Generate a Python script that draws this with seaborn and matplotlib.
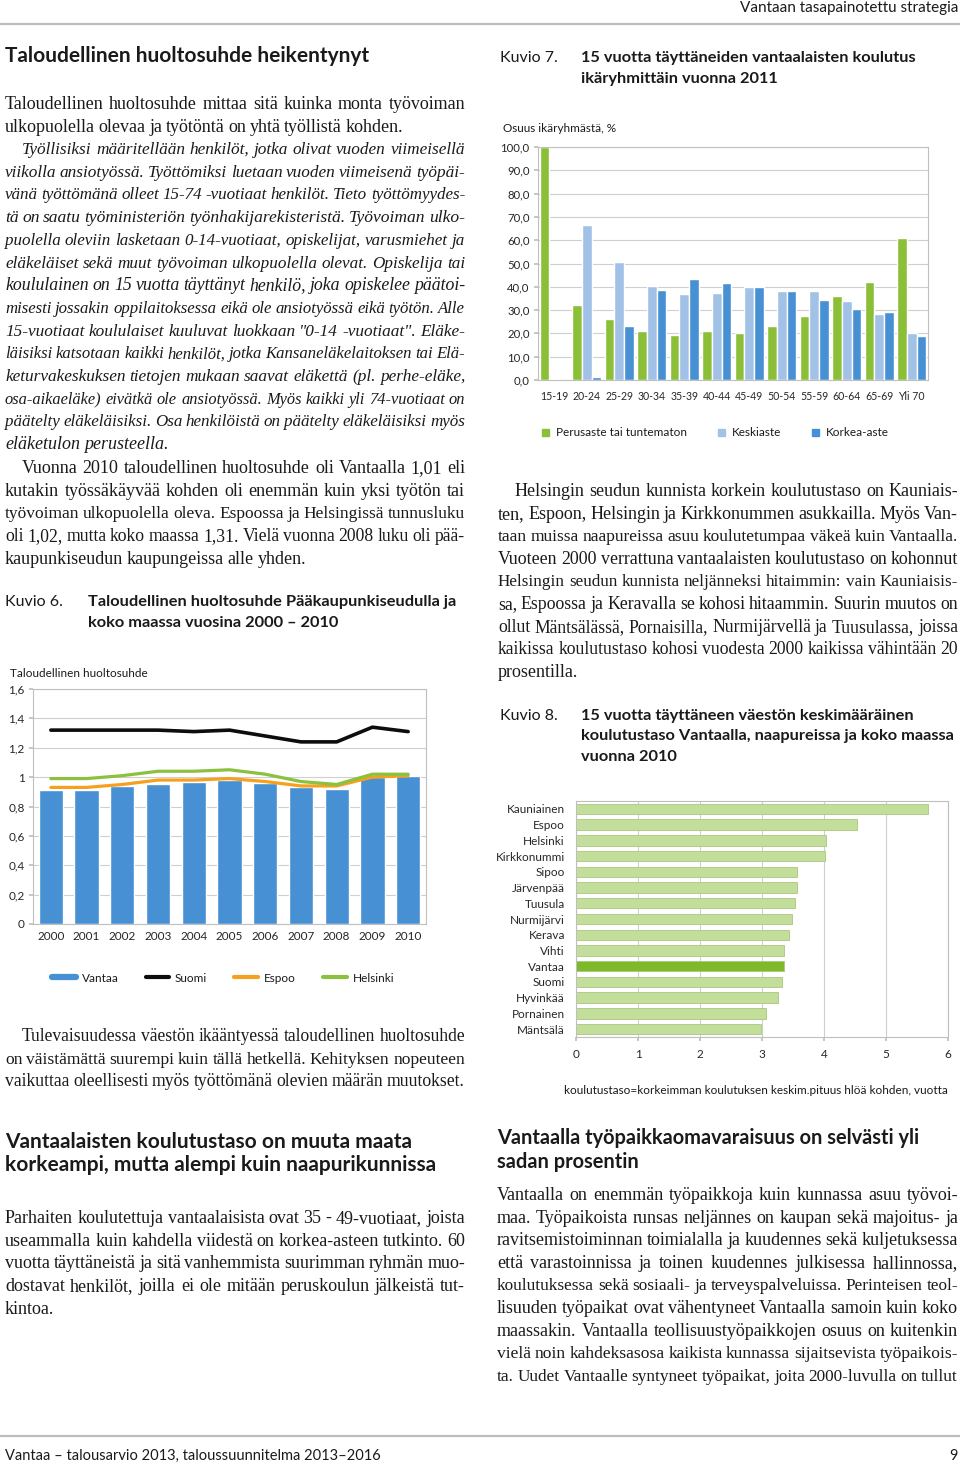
import matplotlib
matplotlib.use('Agg')
import matplotlib.pyplot as plt
import seaborn as sns
import numpy as np
import pandas as pd
from matplotlib.lines import Line2D
from matplotlib.patches import Patch

# Kuvio 6: taloudellinen huoltosuhde 2000-2010
years = ['2000', '2001', '2002', '2003', '2004', '2005', '2006', '2007', '2008', '2009', '2010']
vantaa = [0.91, 0.91, 0.94, 0.95, 0.97, 0.98, 0.96, 0.93, 0.92, 1.00, 1.01]
suomi = [1.32, 1.32, 1.32, 1.32, 1.31, 1.32, 1.28, 1.24, 1.24, 1.34, 1.31]
espoo = [0.93, 0.93, 0.95, 0.98, 0.98, 0.99, 0.97, 0.94, 0.94, 1.00, 1.01]
helsinki = [0.99, 0.99, 1.01, 1.04, 1.04, 1.05, 1.02, 0.97, 0.95, 1.02, 1.02]
k6_ticks = [0, 0.2, 0.4, 0.6, 0.8, 1.0, 1.2, 1.4, 1.6]
k6_ticklabels = ['0', '0,2', '0,4', '0,6', '0,8', '1', '1,2', '1,4', '1,6']

# Kuvio 7: koulutus ikäryhmittäin 2011 (%)
age_groups = ['15-19', '20-24', '25-29', '30-34', '35-39', '40-44', '45-49',
              '50-54', '55-59', '60-64', '65-69', 'Yli 70']
perusaste = [100.0, 32.0, 26.3, 21.0, 19.5, 21.0, 20.0, 23.3, 27.3, 36.0, 42.2, 61.0]
keskiaste = [0.3, 66.5, 50.5, 40.3, 37.0, 37.3, 39.7, 38.3, 38.0, 33.8, 28.3, 20.3]
korkea_aste = [0.0, 1.3, 23.0, 38.5, 43.5, 41.5, 40.0, 38.3, 34.5, 30.3, 29.3, 18.7]
levels = ['Perusaste tai tuntematon', 'Keskiaste', 'Korkea-aste']
k7_ticks = [0, 10, 20, 30, 40, 50, 60, 70, 80, 90, 100]
k7_ticklabels = ['0,0', '10,0', '20,0', '30,0', '40,0', '50,0', '60,0', '70,0', '80,0', '90,0', '100,0']

# Kuvio 8: keskimääräinen koulutustaso 2010 (vuotta)
kunnat = ['Kauniainen', 'Espoo', 'Helsinki', 'Kirkkonummi', 'Sipoo', 'Järvenpää', 'Tuusula',
          'Nurmijärvi', 'Kerava', 'Vihti', 'Vantaa', 'Suomi', 'Hyvinkää', 'Pornainen', 'Mäntsälä']
koulutustaso = [5.68, 4.53, 4.04, 4.01, 3.57, 3.56, 3.54, 3.48, 3.43, 3.36, 3.36, 3.32, 3.25, 3.06, 2.99]

# page text
para1 = ['Taloudellinen huoltosuhde mittaa sitä kuinka monta työvoiman',
         'ulkopuolella olevaa ja työtöntä on yhtä työllistä kohden.']
para2 = ['Työllisiksi määritellään henkilöt, jotka olivat vuoden viimeisellä',
         'viikolla ansiotyössä. Työttömiksi luetaan vuoden viimeisenä työpäi-',
         'vänä työttömänä olleet 15-74 -vuotiaat henkilöt. Tieto työttömyydes-',
         'tä on saatu työministeriön työnhakijarekisteristä. Työvoiman ulko-',
         'puolella oleviin lasketaan 0-14-vuotiaat, opiskelijat, varusmiehet ja',
         'eläkeläiset sekä muut työvoiman ulkopuolella olevat. Opiskelija tai',
         'koululainen on 15 vuotta täyttänyt henkilö, joka opiskelee päätoi-',
         'misesti jossakin oppilaitoksessa eikä ole ansiotyössä eikä työtön. Alle',
         '15-vuotiaat koululaiset kuuluvat luokkaan "0-14 -vuotiaat". Eläke-',
         'läisiksi katsotaan kaikki henkilöt, jotka Kansaneläkelaitoksen tai Elä-',
         'keturvakeskuksen tietojen mukaan saavat eläkettä (pl. perhe-eläke,',
         'osa-aikaeläke) eivätkä ole ansiotyössä. Myös kaikki yli 74-vuotiaat on',
         'päätelty eläkeläisiksi. Osa henkilöistä on päätelty eläkeläisiksi myös',
         'eläketulon perusteella.']
para3 = ['Vuonna 2010 taloudellinen huoltosuhde oli Vantaalla 1,01 eli',
         'kutakin työssäkäyvää kohden oli enemmän kuin yksi työtön tai',
         'työvoiman ulkopuolella oleva. Espoossa ja Helsingissä tunnusluku',
         'oli 1,02, mutta koko maassa 1,31. Vielä vuonna 2008 luku oli pää-',
         'kaupunkiseudun kaupungeissa alle yhden.']
para4 = ['Tulevaisuudessa väestön ikääntyessä taloudellinen huoltosuhde',
         'on väistämättä suurempi kuin tällä hetkellä. Kehityksen nopeuteen',
         'vaikuttaa oleellisesti myös työttömänä olevien määrän muutokset.']
para5 = ['Helsingin seudun kunnista korkein koulutustaso on Kauniais-',
         'ten, Espoon, Helsingin ja Kirkkonummen asukkailla. Myös Van-',
         'taan muissa naapureissa asuu koulutetumpaa väkeä kuin Vantaalla.',
         'Vuoteen 2000 verrattuna vantaalaisten koulutustaso on kohonnut',
         'Helsingin seudun kunnista neljänneksi hitaimmin: vain Kauniaisis-',
         'sa, Espoossa ja Keravalla se kohosi hitaammin. Suurin muutos on',
         'ollut Mäntsälässä, Pornaisilla, Nurmijärvellä ja Tuusulassa, joissa',
         'kaikissa koulutustaso kohosi vuodesta 2000 kaikissa vähintään 20',
         'prosentilla.']
para6 = ['Parhaiten koulutettuja vantaalaisista ovat 35 - 49-vuotiaat, joista',
         'useammalla kuin kahdella viidestä on korkea-asteen tutkinto. 60',
         'vuotta täyttäneistä ja sitä vanhemmista suurimman ryhmän muo-',
         'dostavat henkilöt, joilla ei ole mitään peruskoulun jälkeistä tut-',
         'kintoa.']
para7 = ['Vantaalla on enemmän työpaikkoja kuin kunnassa asuu työvoi-',
         'maa. Työpaikoista runsas neljännes on kaupan sekä majoitus- ja',
         'ravitsemistoiminnan toimialalla ja kuudennes sekä kuljetuksessa',
         'että varastoinnissa ja toinen kuudennes julkisessa hallinnossa,',
         'koulutuksessa sekä sosiaali- ja terveyspalveluissa. Perinteisen teol-',
         'lisuuden työpaikat ovat vähentyneet Vantaalla samoin kuin koko',
         'maassakin. Vantaalla teollisuustyöpaikkojen osuus on kuitenkin',
         'vielä noin kahdeksasosa kaikista kunnassa sijaitsevista työpaikois-',
         'ta. Uudet Vantaalle syntyneet työpaikat, joita 2000-luvulla on tullut']

W, H = 960, 1465
SANS = ['Lato', 'DejaVu Sans']
SERIF = ['Liberation Serif', 'DejaVu Serif']
INK = '#1a1a1a'
GRID = '#cfcfcf'
BODY = 13

sns.set_theme(style='white')
plt.rcParams['font.family'] = SANS
plt.rcParams['text.color'] = INK

fig = plt.figure(figsize=(W / 100, H / 100), dpi=100)
renderer = fig.canvas.get_renderer()


def fx(px):
    return px / W


def fy(py):
    return 1 - py / H


def axes_px(left, top, right, bottom):
    return fig.add_axes([fx(left), fy(bottom), (right - left) / W, (bottom - top) / H])


def put(x, y, s, **kw):
    kw.setdefault('family', SANS)
    kw.setdefault('va', 'center')
    return fig.text(fx(x), fy(y), s, **kw)


def line(x0, x1, y, s, justify=True, size=BODY, style='normal'):
    # place word by word so the line fills the column like in the print
    words = s.split(' ')
    while True:
        arts = [fig.text(0, 0, w, fontsize=size, fontstyle=style, family=SERIF,
                         va='baseline', color=INK) for w in words]
        widths = [a.get_window_extent(renderer).width for a in arts]
        space = size * 1.39 * 0.2
        natural = sum(widths) + space * (len(words) - 1)
        if natural <= x1 - x0 or size < 8:
            break
        for a in arts:
            a.remove()
        size = size * (x1 - x0) / natural * 0.995
    gap = space
    if justify and len(words) > 1:
        gap = (x1 - x0 - sum(widths)) / (len(words) - 1)
    x = x0
    for a, w in zip(arts, widths):
        a.set_position((fx(x), fy(y + 5)))
        x += w + gap


def paragraph(x0, x1, y0, lines, step=22.7, indent=17, style='normal', last_full=False):
    for i, s in enumerate(lines):
        start = x0 + (indent if i == 0 else 0)
        last = i == len(lines) - 1
        line(start, x1, y0 + i * step, s, justify=(not last) or last_full, style=style)


# page header and footer
put(958, 8, 'Vantaan tasapainotettu strategia', ha='right', fontsize=11)
fig.add_artist(Line2D([0, 1], [fy(24), fy(24)], color='#bdbdbd', lw=1.6))
fig.add_artist(Line2D([0, 1], [fy(1436), fy(1436)], color='#bdbdbd', lw=1.6))
put(5, 1456, 'Vantaa – talousarvio 2013, taloussuunnitelma 2013–2016', fontsize=10.5)
put(958, 1456, '9', ha='right', fontsize=10.5)

# left column text
put(5, 56, 'Taloudellinen huoltosuhde heikentynyt', fontsize=15, fontweight='bold')
paragraph(5, 465, 104, para1, indent=0)
paragraph(5, 465, 149, para2, style='italic')
paragraph(5, 465, 468, para3)
paragraph(5, 465, 1036, para4, last_full=True)

put(5, 602, 'Kuvio 6.', fontsize=11.5)
put(88, 602, 'Taloudellinen huoltosuhde Pääkaupunkiseudulla ja', fontsize=11.8, fontweight='bold')
put(88, 623, 'koko maassa vuosina 2000 – 2010', fontsize=11.8, fontweight='bold')

put(5, 1142, 'Vantaalaisten koulutustaso on muuta maata', fontsize=15, fontweight='bold')
put(5, 1165, 'korkeampi, mutta alempi kuin naapurikunnissa', fontsize=15, fontweight='bold')
paragraph(5, 465, 1218, para6, indent=0)

# right column text
put(500, 58, 'Kuvio 7.', fontsize=11.5)
put(581, 58, '15 vuotta täyttäneiden vantaalaisten koulutus', fontsize=11.8, fontweight='bold')
put(581, 79, 'ikäryhmittäin vuonna 2011', fontsize=11.8, fontweight='bold')
paragraph(498, 958, 491, para5, step=22.6)
put(500, 716, 'Kuvio 8.', fontsize=11.5)
put(581, 716, '15 vuotta täyttäneen väestön keskimääräinen', fontsize=11.8, fontweight='bold')
put(581, 736, 'koulutustaso Vantaalla, naapureissa ja koko maassa', fontsize=11.8, fontweight='bold')
put(581, 757, 'vuonna 2010', fontsize=11.8, fontweight='bold')
put(497, 1138, 'Vantaalla työpaikkaomavaraisuus on selvästi yli', fontsize=14.4, fontweight='bold')
put(497, 1162, 'sadan prosentin', fontsize=14.4, fontweight='bold')
paragraph(497, 958, 1195, para7, indent=0, step=22.6, last_full=True)


def frame(ax):
    for sp in ax.spines.values():
        sp.set_visible(True)
        sp.set_color('#bfbfbf')
        sp.set_linewidth(0.8)
    ax.set_xlabel('')
    ax.set_ylabel('')


# Kuvio 6
ax6 = axes_px(33, 689, 426, 924)
sns.barplot(x=years, y=vantaa, color='#4690D3', width=0.68, saturation=1, ax=ax6, zorder=2)
xs = np.arange(len(years))
sns.lineplot(x=xs, y=suomi, color='#0d0d0d', lw=2.6, ax=ax6, zorder=4)
sns.lineplot(x=xs, y=espoo, color='#F5A01E', lw=2.3, ax=ax6, zorder=3)
sns.lineplot(x=xs, y=helsinki, color='#8CC13F', lw=2.3, ax=ax6, zorder=3)
ax6.set_ylim(0, 1.6)
ax6.set_xlim(-0.5, len(years) - 0.5)
ax6.set_yticks(k6_ticks, k6_ticklabels)
ax6.yaxis.grid(True, color=GRID, lw=0.8)
ax6.set_axisbelow(True)
ax6.tick_params(axis='y', labelsize=8.5, length=3, color='#bfbfbf', pad=3, left=True)
ax6.tick_params(axis='x', labelsize=8.5, length=0, pad=5)
frame(ax6)
put(10, 673, 'Taloudellinen huoltosuhde', fontsize=8.5)
h6 = [Line2D([], [], color='#4690D3', lw=4.5),
      Line2D([], [], color='#0d0d0d', lw=3),
      Line2D([], [], color='#F5A01E', lw=3),
      Line2D([], [], color='#8CC13F', lw=3)]
ax6.legend(h6, ['Vantaa', 'Suomi', 'Espoo', 'Helsinki'], ncol=4, loc='center left',
           bbox_to_anchor=(fx(52), fy(978)), bbox_transform=fig.transFigure,
           frameon=False, fontsize=8.5, handlelength=2.0, handletextpad=0.5,
           columnspacing=2.3, borderpad=0, borderaxespad=0)

# Kuvio 7
df7 = pd.DataFrame({'ikä': age_groups * 3,
                    'taso': np.repeat(levels, len(age_groups)),
                    'osuus': perusaste + keskiaste + korkea_aste})
pal7 = {'Perusaste tai tuntematon': '#8BBF38', 'Keskiaste': '#A2C1E7', 'Korkea-aste': '#4690D3'}
ax7 = axes_px(538, 147, 928, 380)
sns.barplot(data=df7, x='ikä', y='osuus', hue='taso', palette=pal7, width=0.9, gap=0,
            saturation=1, errorbar=None, ax=ax7, zorder=2)
ax7.set_ylim(0, 100)
ax7.set_xlim(-0.5, len(age_groups) - 0.5)
ax7.set_yticks(k7_ticks, k7_ticklabels)
ax7.yaxis.grid(True, color=GRID, lw=0.8)
ax7.set_axisbelow(True)
ax7.tick_params(axis='y', labelsize=8.2, length=3, color='#bfbfbf', pad=3, left=True)
ax7.tick_params(axis='x', labelsize=7.6, length=0, pad=8)
frame(ax7)
put(503, 129, 'Osuus ikäryhmästä, %', fontsize=8.5)
h7 = [Patch(color=pal7[l]) for l in levels]
ax7.legend(h7, levels, ncol=3, loc='center left',
           bbox_to_anchor=(fx(542), fy(433)), bbox_transform=fig.transFigure,
           frameon=False, fontsize=8.5, handlelength=0.6, handleheight=0.6, handletextpad=0.6,
           columnspacing=2.6, borderpad=0, borderaxespad=0)

# Kuvio 8
pal8 = {k: ('#7DB928' if k == 'Vantaa' else '#C3DE9B') for k in kunnat}
ax8 = axes_px(576, 801, 948, 1037)
sns.barplot(x=koulutustaso, y=kunnat, hue=kunnat, palette=pal8, legend=False, orient='h',
            width=0.66, saturation=1, edgecolor='#a9c87c', linewidth=0.6, ax=ax8, zorder=2)
ax8.set_xlim(0, 6)
ax8.set_ylim(len(kunnat) - 0.5, -0.5)
ax8.set_xticks(range(7))
ax8.xaxis.grid(True, color=GRID, lw=0.8)
ax8.set_axisbelow(True)
ax8.tick_params(axis='x', labelsize=8.5, length=3, color='#bfbfbf', pad=6, bottom=True)
ax8.tick_params(axis='y', labelsize=8.5, length=0, pad=8)
frame(ax8)
put(948, 1090, 'koulutustaso=korkeimman koulutuksen keskim.pituus hlöä kohden, vuotta',
    ha='right', fontsize=8.5)

fig.savefig('out.png', dpi=100)
